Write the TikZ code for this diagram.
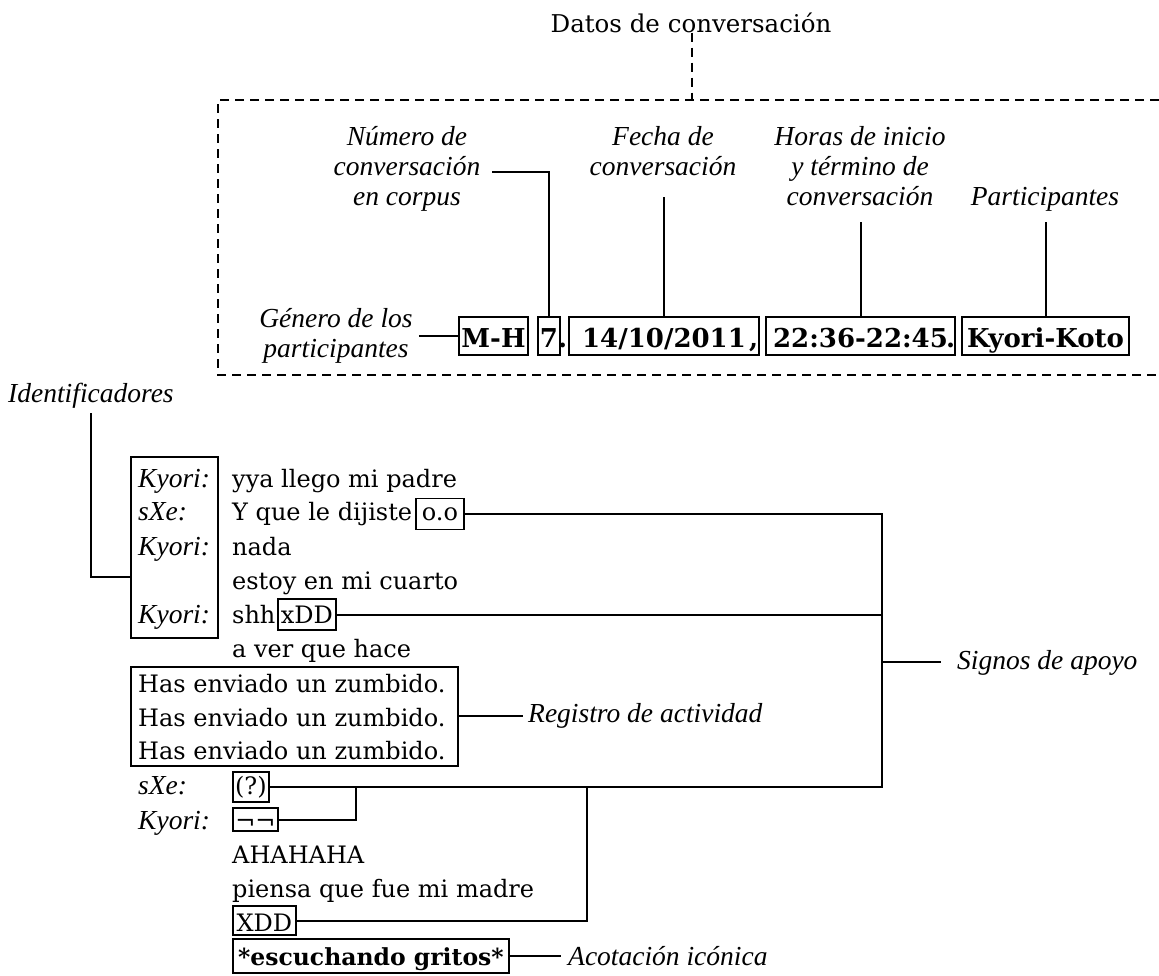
\documentclass[tikz,border=0pt]{standalone}
\usepackage{fontspec}
\setmainfont{DejaVu Serif}
\newfontfamily\itf{Liberation Serif}
\usetikzlibrary{calc}
\newcommand\mylines[1]{\begin{tabular}[t]{@{}c@{}}#1\end{tabular}}
\tikzset{
  reg/.style={font=\fontsize{24}{28}\selectfont, inner sep=0pt, anchor=base west},
  lab/.style={font=\fontsize{27.5}{30}\selectfont\itf\itshape, inner sep=0pt},
  idl/.style={lab, anchor=base west},
  hbox/.style={draw, line width=1.8pt, inner sep=0pt, minimum height=38pt, text height=22pt, text depth=0pt, font=\fontsize{26}{30}\selectfont\bfseries},
  hpunct/.style={inner sep=0pt, anchor=base west, font=\fontsize{26}{30}\selectfont\bfseries},
  cbox/.style={draw, line width=1.8pt, inner sep=0pt, anchor=base west, font=\fontsize{24}{28}\selectfont},
  framebox/.style={draw, line width=1.8pt, inner sep=0pt, anchor=north west},
  conn/.style={line width=2pt},
  dashline/.style={line width=2pt, dash pattern=on 9pt off 6pt},
}
\begin{document}
\begin{tikzpicture}[x=1pt,y=-1pt]
\useasboundingbox (0,0) rectangle (1159,975);

% ---- header ----
\node[font=\fontsize{24.5}{28}\selectfont, inner sep=0pt, anchor=base] (title) at (691,32) {Datos de conversación};
\coordinate (boxtop) at (692,100);
\draw[dashline] (title.south -| boxtop) -- (boxtop);
\draw[dashline] (1159,100) -- (218,100) -- (218,375) -- (1159,375);

\node[lab, anchor=base] (num) at (407,145) {\mylines{Número de\\conversación\\en corpus}};
\node[lab, anchor=base] (fecha) at (663,145) {\mylines{Fecha de\\conversación}};
\node[lab, anchor=base] (horas) at (860,145) {\mylines{Horas de inicio\\y término de\\conversación}};
\node[lab, anchor=base] (part) at (1045,205) {Participantes};
\node[lab, anchor=base] (genero) at (336,327) {\mylines{Género de los\\participantes}};

\node[hbox, minimum width=69pt] (bmh) at (493.5,336) {M-H};
\node[hbox, minimum width=22pt] (b7) at (549,336) {7};
\node[hbox, minimum width=190pt] (b14) at (664,336) {14/10/2011};
\node[hbox, minimum width=189pt] (b22) at (860.5,336) {22:36-22:45};
\node[hbox, minimum width=167pt] (bkk) at (1045.5,336) {Kyori-Koto};
\node[hpunct] (p7) at (558,347) {.};
\node[hpunct] (p14) at (749,347) {,};
\node[hpunct] (p22) at (946,347) {.};

\coordinate (numc) at (492,172);
\coordinate (fechac) at (664,197);
\coordinate (horasc) at (860.5,222);
\coordinate (partc) at (1045.5,222);
\draw[conn] (numc) -| (b7.north);
\draw[conn] (fechac) -- (b14.north);
\draw[conn] (horasc) -- (b22.north);
\draw[conn] (partc) -- (bkk.north);
\draw[conn] ($(bmh.west -| genero.east)+(6,0)$) -- (bmh.west);

% ---- chat ----
\node[lab, anchor=base west] (ident) at (8,402) {Identificadores};
\node[framebox, minimum width=87pt, minimum height=181pt] (idbox) at (130,456) {};
\node[idl] (k0) at (138,487) {Kyori:};
\node[idl] (k1) at (138,520.5) {sXe:};
\node[idl] (k2) at (138,555) {Kyori:};
\node[idl] (k4) at (138,623) {Kyori:};
\coordinate (idj) at (0,577);
\draw[conn] ($(ident.south)+(0,5)$) |- (idbox.west |- idj);

\node[reg] (t0) at (232,487) {yya llego mi padre};
\node[reg] (t1) at (232,520.5) {Y que le dijiste};
\node[cbox, text height=22pt, text depth=9pt, minimum width=48pt] (oo) at (415,520.5) {o.o};
\node[reg] (t2) at (232,555) {nada};
\node[reg] (t3) at (232,589) {estoy en mi cuarto};
\node[reg] (t4) at (232,623) {shh};
\node[cbox, text height=24pt, text depth=7pt, minimum width=58pt] (xdd) at (277,623) {xDD};
\node[reg] (t5) at (232,657) {a ver que hace};

\node[framebox, minimum width=327pt, minimum height=99pt] (regbox) at (130,666) {};
\node[reg] (z1) at (138,692) {Has enviado un zumbido.};
\node[reg] (z2) at (138,726) {Has enviado un zumbido.};
\node[reg] (z3) at (138,759) {Has enviado un zumbido.};
\node[lab, anchor=base west] (registro) at (528,722) {Registro de actividad};
\draw[conn] (regbox.east) -- ($(regbox.east -| registro.west)+(-5,0)$);

\node[idl] (k9) at (138,794) {sXe:};
\node[cbox, text height=22pt, text depth=8pt, minimum width=36pt] (qq) at (232,794) {(?)};
\node[idl] (k10) at (138,829) {Kyori:};
\node[cbox, text height=21pt, text depth=2pt, minimum width=45pt] (nn) at (232,829) {¬¬};
\node[reg] (t11) at (232,863) {AHAHAHA};
\node[reg] (t12) at (232,897) {piensa que fue mi madre};
\node[cbox, text height=25pt, text depth=4pt, minimum width=63pt] (xdd2) at (232,931) {XDD};
\node[cbox, text height=26pt, text depth=8pt, minimum width=276pt, font=\fontsize{23.5}{28}\selectfont\bfseries] (esc) at (232,965) {*escuchando gritos*};
\node[lab, anchor=base west] (acot) at (568,965) {Acotación icónica};
\draw[conn] (esc.east) -- ($(esc.east -| acot.west)+(-7,0)$);

\node[lab, anchor=base west] (signos) at (957,669) {Signos de apoyo};
\coordinate (vbar) at (882,0);
\coordinate (sub1) at (356,0);
\coordinate (sub2) at (587,0);
\draw[conn] (oo.east) -- (oo.east -| vbar) -- (qq.east -| vbar) -- (qq.east);
\draw[conn] (xdd.east) -- (xdd.east -| vbar);
\draw[conn] (vbar |- signos.west) -- ($(signos.west)+(-16,0)$);
\draw[conn] (nn.east) -| (qq.east -| sub1);
\draw[conn] (xdd2.east) -| (qq.east -| sub2);
\end{tikzpicture}
\end{document}
